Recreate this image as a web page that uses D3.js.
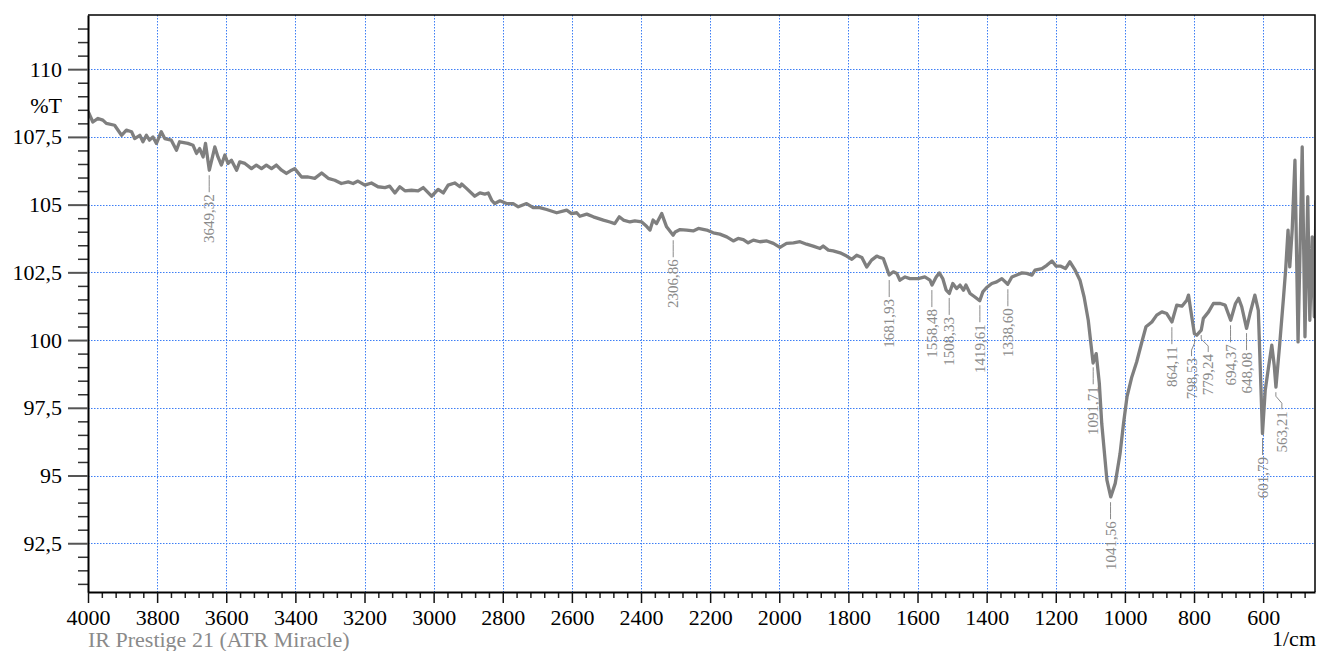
<!DOCTYPE html>
<html>
<head>
<meta charset="utf-8">
<script src="https://cdn.jsdelivr.net/npm/d3@7"></script>
<style>
  body { margin: 0; background: #fff; }
  svg { display: block; font-family: "Liberation Serif", "Times New Roman", serif; }
</style>
</head>
<body>
<svg></svg>
<script>
// spectrum (1/cm, %T)
const wavenumber = [
  4000, 3986, 3971, 3957, 3947, 3923, 3903, 3889, 3874, 3865, 3850, 3841, 3831, 3822, 3812, 3802,
  3788, 3778, 3759, 3744, 3735, 3711, 3696, 3686, 3677, 3667, 3660, 3649, 3633, 3624, 3614, 3604,
  3595, 3585, 3570, 3561, 3546, 3527, 3513, 3498, 3484, 3469, 3455, 3440, 3426, 3411, 3402, 3382,
  3363, 3344, 3324, 3305, 3286, 3267, 3247, 3233, 3219, 3199, 3180, 3161, 3141, 3127, 3112, 3098,
  3083, 3064, 3045, 3030, 3006, 2987, 2972, 2958, 2939, 2924, 2919, 2905, 2881, 2866, 2852, 2842,
  2832, 2823, 2808, 2789, 2770, 2755, 2731, 2712, 2693, 2673, 2644, 2615, 2601, 2586, 2577, 2557,
  2538, 2509, 2490, 2476, 2463, 2451, 2432, 2418, 2398, 2384, 2374, 2365, 2355, 2340, 2326, 2307,
  2301, 2287, 2268, 2249, 2234, 2210, 2191, 2172, 2152, 2133, 2119, 2104, 2090, 2075, 2056, 2036,
  2017, 1998, 1979, 1959, 1940, 1921, 1902, 1882, 1873, 1858, 1844, 1824, 1805, 1790, 1776, 1761,
  1747, 1733, 1718, 1709, 1699, 1694, 1682, 1670, 1660, 1651, 1636, 1622, 1598, 1579, 1564, 1558,
  1546, 1537, 1527, 1517, 1508, 1498, 1487, 1477, 1467, 1460, 1448, 1434, 1420, 1411, 1400, 1385,
  1371, 1356, 1339, 1327, 1313, 1298, 1284, 1269, 1260, 1240, 1226, 1211, 1199, 1187, 1172, 1159,
  1144, 1130, 1118, 1106, 1092, 1083, 1074, 1067, 1052, 1041, 1028, 1014, 1004, 994, 980, 966,
  951, 939, 922, 908, 893, 879, 864, 850, 835, 821, 816, 811, 799, 792, 779, 773,
  758, 744, 724, 710, 694, 680, 671, 662, 648, 638, 624, 614, 602, 594, 585, 575,
  568, 563, 552, 541, 535, 528, 523, 516, 508, 499, 487, 479, 471, 465, 458, 452, 447
];
const transmittance = [
  108.45, 108.05, 108.18, 108.12, 108.00, 107.93, 107.56, 107.75, 107.69, 107.44, 107.56, 107.32, 107.56, 107.38, 107.50, 107.26,
  107.69, 107.44, 107.38, 107.01, 107.32, 107.26, 107.19, 106.89, 107.07, 106.76, 107.26, 106.27, 107.13, 106.76, 106.46, 106.83,
  106.52, 106.64, 106.27, 106.58, 106.52, 106.33, 106.46, 106.33, 106.46, 106.33, 106.46, 106.27, 106.15, 106.27, 106.33, 106.02,
  106.02, 105.97, 106.17, 105.97, 105.90, 105.78, 105.84, 105.78, 105.87, 105.72, 105.80, 105.66, 105.63, 105.68, 105.43, 105.66,
  105.51, 105.53, 105.51, 105.63, 105.31, 105.56, 105.43, 105.72, 105.80, 105.66, 105.76, 105.60, 105.31, 105.43, 105.39, 105.43,
  105.16, 105.04, 105.14, 105.04, 105.04, 104.92, 105.04, 104.89, 104.89, 104.82, 104.70, 104.80, 104.67, 104.70, 104.57, 104.65,
  104.55, 104.43, 104.36, 104.30, 104.55, 104.43, 104.36, 104.40, 104.36, 104.20, 104.06, 104.43, 104.30, 104.67, 104.18, 103.87,
  103.99, 104.08, 104.06, 104.03, 104.12, 104.06, 103.96, 103.91, 103.81, 103.66, 103.75, 103.71, 103.59, 103.69, 103.63, 103.66,
  103.57, 103.42, 103.57, 103.59, 103.63, 103.54, 103.47, 103.38, 103.47, 103.32, 103.29, 103.22, 103.10, 102.98, 103.13, 103.05,
  102.70, 102.95, 103.10, 103.05, 103.01, 102.83, 102.40, 102.52, 102.46, 102.21, 102.33, 102.27, 102.27, 102.33, 102.21, 102.03,
  102.33, 102.48, 102.27, 101.84, 101.72, 102.09, 101.90, 102.03, 101.84, 102.03, 101.72, 101.59, 101.45, 101.78, 101.94, 102.09,
  102.15, 102.27, 102.06, 102.33, 102.40, 102.48, 102.46, 102.40, 102.58, 102.64, 102.76, 102.92, 102.73, 102.73, 102.64, 102.89,
  102.58, 102.21, 101.59, 100.73, 99.15, 99.50, 98.40, 96.92, 94.83, 94.21, 94.71, 95.81, 96.92, 97.90, 98.64, 99.19,
  99.93, 100.49, 100.67, 100.92, 101.04, 100.98, 100.67, 101.29, 101.25, 101.47, 101.66, 101.23, 100.24, 100.18, 100.37, 100.80,
  101.04, 101.35, 101.35, 101.29, 100.73, 101.35, 101.54, 101.23, 100.43, 100.98, 101.66, 101.10, 96.55, 98.15, 98.95, 99.81,
  99.07, 98.26, 99.87, 101.59, 102.58, 104.06, 102.70, 104.06, 106.64, 99.93, 107.13, 100.12, 105.29, 100.73, 103.81, 100.86, 105.16
];

// peak table
const peakWavenumber = [3649.32, 2306.86, 1681.93, 1558.48, 1508.33, 1419.61, 1338.60, 1091.71,
  1041.56, 864.11, 798.53, 779.24, 694.37, 648.08, 601.79, 563.21];
const peakTransmittance = [106.27, 103.87, 102.40, 102.03, 101.74, 101.47, 102.06, 99.18,
  94.20, 100.66, 100.22, 100.37, 100.73, 100.44, 96.57, 98.26];

const xTickValues = [4000, 3800, 3600, 3400, 3200, 3000, 2800, 2600, 2400, 2200, 2000, 1800, 1600, 1400, 1200, 1000, 800, 600];
const yTickValues = [92.5, 95, 97.5, 100, 102.5, 105, 107.5, 110];

// labels nudged sideways so they don't collide (px)
const labelShift = { 798.53: -3, 779.24: 7, 563.21: 6 };

const width = 1317;
const height = 651;
const margin = { left: 88, right: 1315, top: 15, bottom: 592 };
const serif = '"Liberation Serif", "Times New Roman", serif';

const svg = d3.select('svg')
    .attr('width', width)
    .attr('height', height);

const x = d3.scaleLinear().domain([4000, 450]).range([margin.left, margin.right]);
const y = d3.scaleLinear().domain([90.7, 112]).range([margin.bottom, margin.top]);

const fmt = d3.format('.2f');
const comma = v => String(v).replace('.', ',');

// grid
const grid = svg.append('g')
    .attr('stroke', '#3d7ef5')
    .attr('stroke-width', 1)
    .attr('stroke-dasharray', '1.5,1.5');

grid.selectAll('.vgrid')
    .data(xTickValues.filter(d => d !== 4000))
    .enter().append('line')
    .attr('x1', d => Math.round(x(d)) + 0.5)
    .attr('x2', d => Math.round(x(d)) + 0.5)
    .attr('y1', margin.top)
    .attr('y2', margin.bottom);

grid.selectAll('.hgrid')
    .data(yTickValues)
    .enter().append('line')
    .attr('x1', margin.left)
    .attr('x2', margin.right)
    .attr('y1', d => Math.round(y(d)) + 0.5)
    .attr('y2', d => Math.round(y(d)) + 0.5);

// spectrum
svg.append('clipPath').attr('id', 'plot-clip')
    .append('rect')
    .attr('x', margin.left).attr('y', margin.top)
    .attr('width', margin.right - margin.left).attr('height', margin.bottom - margin.top);

const points = wavenumber.map((w, i) => [w, transmittance[i]]);

const line = d3.line()
    .x(d => x(d[0]))
    .y(d => y(d[1]));

svg.append('path')
    .datum(points)
    .attr('clip-path', 'url(#plot-clip)')
    .attr('fill', 'none')
    .attr('stroke', '#7f7f7f')
    .attr('stroke-width', 3.3)
    .attr('stroke-linejoin', 'round')
    .attr('d', line);

// peak labels
const peaks = svg.append('g').attr('class', 'peaks');

peakWavenumber.forEach((w, i) => {
    const px = x(w);
    const py = y(peakTransmittance[i]);
    const lx = px + (labelShift[w] || 0);
    peaks.append('path')
        .attr('fill', 'none')
        .attr('stroke', '#8a8a8a')
        .attr('stroke-width', 1)
        .attr('d', `M${px},${py + 5}L${px},${py + 9}L${lx},${py + 16}L${lx},${py + 22}`);
    peaks.append('text')
        .attr('transform', `translate(${lx},${py + 24}) rotate(-90)`)
        .attr('text-anchor', 'end')
        .attr('dy', '0.35em')
        .style('font-family', serif)
        .style('font-size', '15px')
        .style('fill', '#8a8a8a')
        .text(comma(fmt(w)));
});

// frame
svg.append('path')
    .attr('fill', 'none')
    .attr('stroke', '#000')
    .attr('stroke-width', 1.5)
    .attr('d', `M${margin.left},${margin.top}H${margin.right}V${margin.bottom}`);

// y axis
const yMinor = d3.range(182, 224).map(d => d / 2).filter(d => yTickValues.indexOf(d) < 0);

svg.append('g')
    .attr('transform', `translate(${margin.left},0)`)
    .call(d3.axisLeft(y).tickValues(yMinor).tickSize(10).tickFormat(''))
    .call(g => g.select('.domain').remove())
    .call(g => g.selectAll('line').attr('stroke', '#333').attr('stroke-width', 1.5));

svg.append('g')
    .attr('transform', `translate(${margin.left},0)`)
    .call(d3.axisLeft(y).tickValues(yTickValues).tickSize(20).tickPadding(6).tickSizeOuter(0)
        .tickFormat(d => comma(d)))
    .attr('font-family', serif)
    .attr('font-size', 22)
    .call(g => g.select('.domain').attr('stroke', '#000').attr('stroke-width', 2))
    .call(g => g.selectAll('.tick line').attr('stroke', '#555').attr('stroke-width', 2))
    .call(g => g.selectAll('text').attr('fill', '#000'));

// x axis
const xMinor = d3.range(4000, 470, -40).filter(d => xTickValues.indexOf(d) < 0);

svg.append('g')
    .attr('transform', `translate(0,${margin.bottom})`)
    .call(d3.axisBottom(x).tickValues(xMinor).tickSize(6).tickFormat(''))
    .call(g => g.select('.domain').remove())
    .call(g => g.selectAll('line').attr('stroke', '#222').attr('stroke-width', 1.5));

svg.append('g')
    .attr('transform', `translate(0,${margin.bottom})`)
    .call(d3.axisBottom(x).tickValues(xTickValues).tickSize(11).tickPadding(6).tickSizeOuter(0)
        .tickFormat(d => String(d)))
    .attr('font-family', serif)
    .attr('font-size', 22)
    .call(g => g.select('.domain').attr('stroke', '#000').attr('stroke-width', 2))
    .call(g => g.selectAll('.tick line').attr('stroke', '#111').attr('stroke-width', 1.5))
    .call(g => g.selectAll('text').attr('fill', '#000'));

// titles
svg.append('text')
    .attr('x', 62)
    .attr('y', 105)
    .attr('dy', '0.35em')
    .attr('text-anchor', 'end')
    .style('font-size', '22px')
    .text('%T');

svg.append('text')
    .attr('x', 1316)
    .attr('y', 646)
    .attr('text-anchor', 'end')
    .style('font-size', '22px')
    .text('1/cm');

svg.append('text')
    .attr('x', 88)
    .attr('y', 647)
    .style('font-size', '22px')
    .style('fill', '#8a8a8a')
    .text('IR Prestige 21 (ATR Miracle)');
</script>
</body>
</html>
